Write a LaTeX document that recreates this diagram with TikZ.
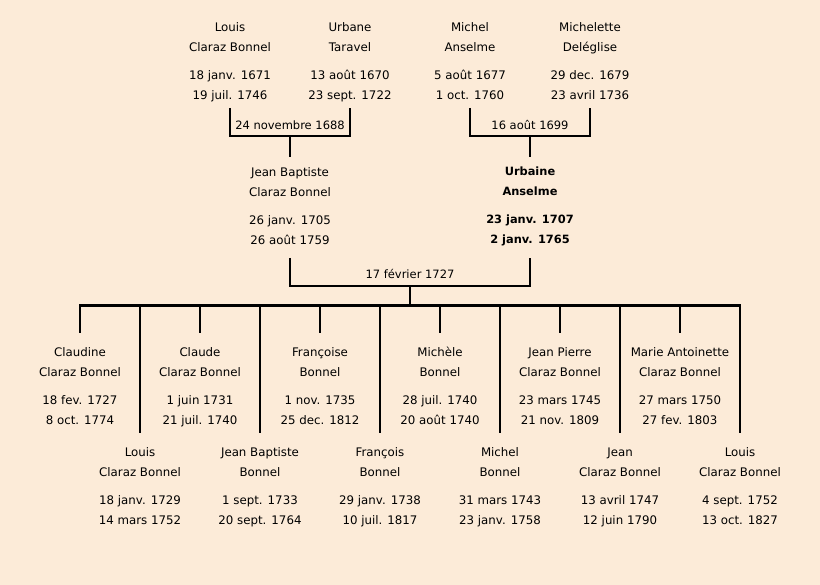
\documentclass[tikz,border=0pt]{standalone}
\usepackage{fontspec}
\setmainfont{DejaVu Sans}
\definecolor{paper}{RGB}{252,235,216}
\tikzset{
    person/.style = {anchor=north, align=center, inner sep=0pt, font=\fontsize{11.8}{20}\selectfont, execute at begin node=\strut},
    personb/.style = {person, font=\fontsize{11.4}{20}\selectfont\bfseries},
    wedding/.style = {inner sep=1pt, font=\fontsize{11.5}{14}\selectfont},
    bond/.style = {line width=2.4pt, draw=black},
}
\begin{document}
\begin{tikzpicture}[x=1pt, y=-1pt]
\fill[paper] (0,0) rectangle (820,585);
\useasboundingbox (0,0) rectangle (820,585);

% grand parents
\node[person] (louisc)     at (230,22) {Louis\\Claraz Bonnel\\[8pt]18 janv. 1671\\19 juil. 1746};
\node[person] (urbane)     at (350,22) {Urbane\\Taravel\\[8pt]13 août 1670\\23 sept. 1722};
\node[person] (michel)     at (470,22) {Michel\\Anselme\\[8pt]5 août 1677\\1 oct. 1760};
\node[person] (michelette) at (590,22) {Michelette\\Deléglise\\[8pt]29 dec. 1679\\23 avril 1736};

% parents
\node[person]  (jeanbaptiste) at (290,167) {Jean Baptiste\\Claraz Bonnel\\[8pt]26 janv. 1705\\26 août 1759};
\node[personb] (urbaine)      at (530,167) {Urbaine\\Anselme\\[8pt]23 janv. 1707\\2 janv. 1765};

% children
\node[person] (claudine)        at (80,347)  {Claudine\\Claraz Bonnel\\[8pt]18 fev. 1727\\8 oct. 1774};
\node[person] (louis)           at (140,447) {Louis\\Claraz Bonnel\\[8pt]18 janv. 1729\\14 mars 1752};
\node[person] (claude)          at (200,347) {Claude\\Claraz Bonnel\\[8pt]1 juin 1731\\21 juil. 1740};
\node[person] (jeanbaptisteb)   at (260,447) {Jean Baptiste\\Bonnel\\[8pt]1 sept. 1733\\20 sept. 1764};
\node[person] (francoise)       at (320,347) {Françoise\\Bonnel\\[8pt]1 nov. 1735\\25 dec. 1812};
\node[person] (francois)        at (380,447) {François\\Bonnel\\[8pt]29 janv. 1738\\10 juil. 1817};
\node[person] (michele)         at (440,347) {Michèle\\Bonnel\\[8pt]28 juil. 1740\\20 août 1740};
\node[person] (michelb)         at (500,447) {Michel\\Bonnel\\[8pt]31 mars 1743\\23 janv. 1758};
\node[person] (jeanpierre)      at (560,347) {Jean Pierre\\Claraz Bonnel\\[8pt]23 mars 1745\\21 nov. 1809};
\node[person] (jean)            at (620,448) {Jean\\Claraz Bonnel\\[8pt]13 avril 1747\\12 juin 1790};
\node[person] (marieantoinette) at (680,347) {Marie Antoinette\\Claraz Bonnel\\[8pt]27 mars 1750\\27 fev. 1803};
\node[person] (louisb)          at (740,447) {Louis\\Claraz Bonnel\\[8pt]4 sept. 1752\\13 oct. 1827};

\coordinate (ringtop) at (0,108);
\coordinate (ringmid) at (0,258);
\coordinate (wed1) at (290,136);
\coordinate (wed2) at (530,136);
\coordinate (wed3) at (410,286);
\coordinate (kids) at (410,305.5);
\coordinate (rowa) at (0,333);
\coordinate (rowb) at (0,433);

% weddings
\draw[bond] (louisc |- ringtop) -- (louisc |- wed1) -- (urbane |- wed1) -- (urbane |- ringtop);
\draw[bond] (michel |- ringtop) -- (michel |- wed2) -- (michelette |- wed2) -- (michelette |- ringtop);
\draw[bond,shorten >=10pt] (wed1) -- (jeanbaptiste.north);
\draw[bond,shorten >=10pt] (wed2) -- (urbaine.north);
\node[wedding] (w1) at (290,125) {24 novembre 1688};
\node[wedding] (w2) at (530,125) {16 août 1699};

\draw[bond] (jeanbaptiste |- ringmid) -- (jeanbaptiste |- wed3) -- (urbaine |- wed3) -- (urbaine |- ringmid);
\node[wedding] (w3) at (410,274) {17 février 1727};
\draw[bond] (wed3) -- (kids);

% children bar
\draw[bond] (claudine |- rowa) -- (claudine |- kids) -- (louisb |- kids) -- (louisb |- rowb);
\draw[bond] (louis |- kids) -- (louis |- rowb);
\draw[bond] (claude |- kids) -- (claude |- rowa);
\draw[bond] (jeanbaptisteb |- kids) -- (jeanbaptisteb |- rowb);
\draw[bond] (francoise |- kids) -- (francoise |- rowa);
\draw[bond] (francois |- kids) -- (francois |- rowb);
\draw[bond] (michele |- kids) -- (michele |- rowa);
\draw[bond] (michelb |- kids) -- (michelb |- rowb);
\draw[bond] (jeanpierre |- kids) -- (jeanpierre |- rowa);
\draw[bond] (jean |- kids) -- (jean |- rowb);
\draw[bond] (marieantoinette |- kids) -- (marieantoinette |- rowa);

\end{tikzpicture}
\end{document}
